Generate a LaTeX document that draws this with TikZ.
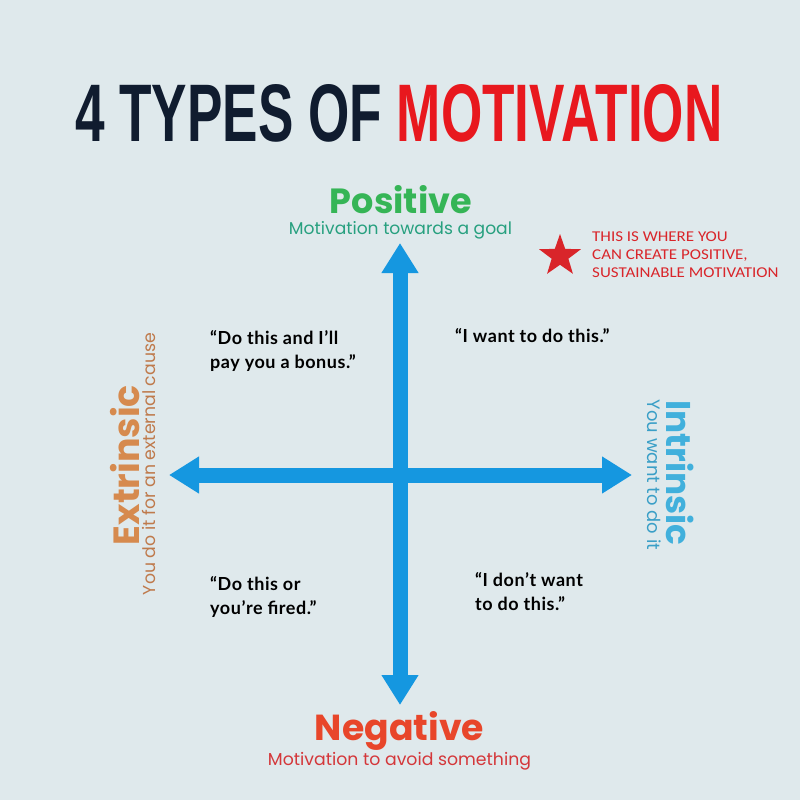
\documentclass[tikz,border=0pt]{standalone}
\usepackage{fontspec}
\setmainfont{Poppins}
\newfontfamily\titlefont{Liberation Sans}
\newfontfamily\quotefont[LetterSpace=3]{Lato}
\newfontfamily\notefont{Carlito}
\usetikzlibrary{arrows.meta,shapes.geometric}
\definecolor{bgc}{HTML}{DFE9EC}
\definecolor{navy}{HTML}{101C2F}
\definecolor{tred}{HTML}{E8181E}
\definecolor{axisblue}{HTML}{1597E0}
\definecolor{posg}{HTML}{35B556}
\definecolor{post}{HTML}{27A07F}
\definecolor{negr}{HTML}{E8462A}
\definecolor{negs}{HTML}{D4373A}
\definecolor{extc}{HTML}{D68A4E}
\definecolor{exts}{HTML}{BF7A4C}
\definecolor{intc}{HTML}{41B0DC}
\definecolor{ints}{HTML}{3A9FC7}
\definecolor{notec}{HTML}{D9252A}
\tikzset{
  axisarrow/.style={line width=15pt, draw=axisblue,
    arrows={Triangle[width=35pt,length=30pt]-Triangle[width=35pt,length=30pt]}},
  quote/.style={inner sep=0pt, anchor=north west, align=left,
    font=\quotefont\bfseries\fontsize{18}{24.5}\selectfont, text=black},
  plain/.style={inner sep=0pt}
}
\begin{document}
\begin{tikzpicture}[x=1pt,y=-1pt]
\fill[bgc] (0,0) rectangle (800,800);
\useasboundingbox (0,0) rectangle (800,800);
% title
\node[plain, anchor=south west] (title) at (75,142)
  {\resizebox{647pt}{57pt}{\titlefont\bfseries\color{navy}4 TYPES OF \color{tred}MOTIVATION}};
% axes
\coordinate (top) at (400,243);
\coordinate (bottom) at (400,705);
\coordinate (left) at (169,475);
\coordinate (right) at (632,475);
\draw[axisarrow] (bottom) -- (top);
\draw[axisarrow] (left) -- (right);
% positive
\node[plain, anchor=base] (pos) at (401,213)
  {\resizebox{142pt}{!}{\bfseries\color{posg}Positive}};
\node[plain, anchor=base] (posd) at (400.5,234.5)
  {\resizebox{223pt}{!}{\color{post}Motivation towards a goal}};
% negative
\node[plain, anchor=base] (neg) at (399.5,740)
  {\resizebox{169pt}{!}{\bfseries\color{negr}Negative}};
\node[plain, anchor=base] (negd) at (399.5,765)
  {\resizebox{263pt}{!}{\color{negs}Motivation to avoid something}};
% extrinsic
\node[plain, rotate=90, anchor=base] (ext) at (139,465)
  {\resizebox{160pt}{!}{\bfseries\color{extc}Extrinsic}};
\node[plain, rotate=90, anchor=base] (extd) at (155,464)
  {\resizebox{262pt}{!}{\color{exts}You do it for an external cause}};
% intrinsic
\node[plain, rotate=-90, anchor=base] (int) at (666,473)
  {\resizebox{145pt}{!}{\bfseries\color{intc}Intrinsic}};
\node[plain, rotate=-90, anchor=base] (intd) at (647,475)
  {\resizebox{150pt}{!}{\color{ints}You want to do it}};
% quotes
\node[quote] (q1) at (210,330) {“Do this and I’ll\\pay you a bonus.”};
\node[quote] (q2) at (455,328) {“I want to do this.”};
\node[quote] (q3) at (210,576) {“Do this or\\you’re fired.”};
\node[quote] (q4) at (475,572) {“I don’t want\\to do this.”};
% star note
\node[star, star points=5, star point ratio=2.5, fill=notec, draw=none,
  minimum size=44pt, inner sep=0pt] (star) at (560,256) {};
\node[plain, anchor=north west, align=left, text=notec, xscale=1.13,
  transform shape, font=\notefont\fontsize{15}{18}\selectfont] (note) at (592,232)
  {THIS IS WHERE YOU\\CAN CREATE POSITIVE,\\SUSTAINABLE MOTIVATION};
\end{tikzpicture}
\end{document}
